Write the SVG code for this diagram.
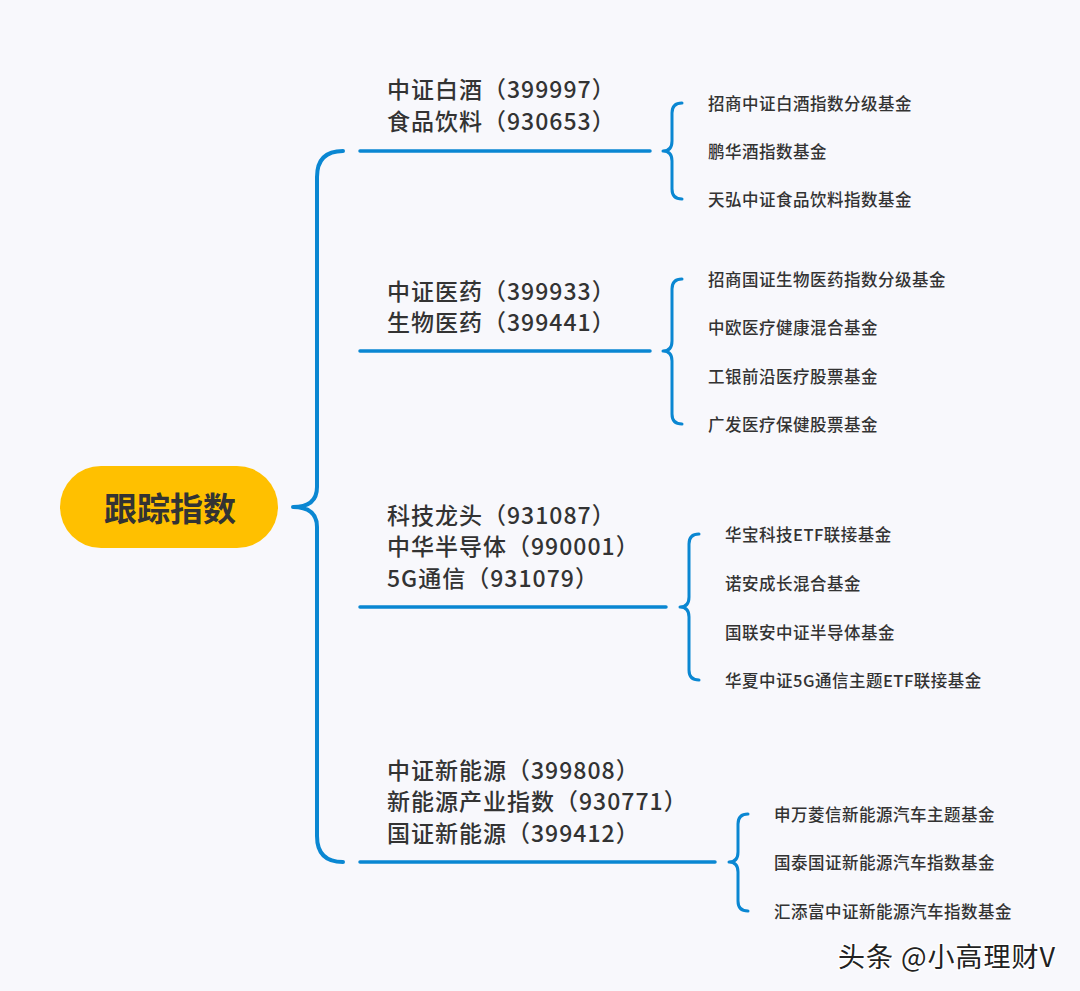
<svg xmlns="http://www.w3.org/2000/svg" width="1080" height="991" viewBox="0 0 1080 991">
<style>
.bg{fill:#F8F8FC}
.ln{fill:none;stroke:#0A87D2;stroke-linecap:round;stroke-linejoin:round}
.main{stroke-width:4}
.sub{stroke-width:3.5}
.br{stroke-width:3}
.t1{font-family:"Noto Sans CJK SC","Noto Sans",sans-serif;font-size:23px;font-weight:500;fill:#333;letter-spacing:1px}
.t2{font-family:"Noto Sans CJK SC","Noto Sans",sans-serif;font-size:16.5px;font-weight:500;fill:#333;letter-spacing:0.5px}
.root{font-family:"Noto Sans CJK SC","Noto Sans",sans-serif;font-size:33px;font-weight:700;fill:#333}
.wm{font-family:"Noto Sans CJK SC","Noto Sans",sans-serif;font-size:27px;font-weight:400;fill:#222;stroke:#fff;stroke-width:2.5;paint-order:stroke;letter-spacing:1px}
</style>
<rect class="bg" x="0" y="0" width="1080" height="991"/>
<g id="connectors">
  <path class="ln main" d="M343,151 Q317,151 317,177 L317,487 Q317,507 293,507 Q317,507 317,527 L317,836 Q317,862 343,862"/>
  <line class="ln sub" x1="360" y1="151" x2="650" y2="151"/>
  <line class="ln sub" x1="360" y1="351" x2="650" y2="351"/>
  <line class="ln sub" x1="360" y1="607" x2="666" y2="607"/>
  <line class="ln sub" x1="360" y1="862" x2="715" y2="862"/>
  <path class="ln br" d="M682,103 Q672,103 672,113 L672,141 Q672,151 663,151 Q672,151 672,161 L672,189 Q672,199 682,199"/>
  <path class="ln br" d="M682,279 Q672,279 672,289 L672,341 Q672,351 663,351 Q672,351 672,361 L672,414 Q672,424 682,424"/>
  <path class="ln br" d="M699,534 Q689,534 689,544 L689,597 Q689,607 680,607 Q689,607 689,617 L689,670 Q689,680 699,680"/>
  <path class="ln br" d="M748,814 Q738,814 738,824 L738,852 Q738,862 729,862 Q738,862 738,872 L738,901 Q738,911 748,911"/>
</g>
<g id="root">
  <rect x="60" y="466" width="218" height="82" rx="41" fill="#FFC000"/>
  <text class="root" x="170" y="507" text-anchor="middle" dominant-baseline="central">跟踪指数</text>
</g>
<g id="branch1">
  <text class="t1" x="387" y="88" dominant-baseline="central">中证白酒（399997）</text>
  <text class="t1" x="387" y="120" dominant-baseline="central">食品饮料（930653）</text>
</g>
<g id="branch2">
  <text class="t1" x="387" y="290" dominant-baseline="central">中证医药（399933）</text>
  <text class="t1" x="387" y="321" dominant-baseline="central">生物医药（399441）</text>
</g>
<g id="branch3">
  <text class="t1" x="387" y="514" dominant-baseline="central">科技龙头（931087）</text>
  <text class="t1" x="387" y="545" dominant-baseline="central">中华半导体（990001）</text>
  <text class="t1" x="387" y="577" dominant-baseline="central">5G通信（931079）</text>
</g>
<g id="branch4">
  <text class="t1" x="387" y="769" dominant-baseline="central">中证新能源（399808）</text>
  <text class="t1" x="387" y="800" dominant-baseline="central">新能源产业指数（930771）</text>
  <text class="t1" x="387" y="832" dominant-baseline="central">国证新能源（399412）</text>
</g>
<g id="funds1">
  <text class="t2" x="708" y="103" dominant-baseline="central">招商中证白酒指数分级基金</text>
  <text class="t2" x="708" y="151" dominant-baseline="central">鹏华酒指数基金</text>
  <text class="t2" x="708" y="199" dominant-baseline="central">天弘中证食品饮料指数基金</text>
</g>
<g id="funds2">
  <text class="t2" x="708" y="279" dominant-baseline="central">招商国证生物医药指数分级基金</text>
  <text class="t2" x="708" y="327" dominant-baseline="central">中欧医疗健康混合基金</text>
  <text class="t2" x="708" y="376" dominant-baseline="central">工银前沿医疗股票基金</text>
  <text class="t2" x="708" y="424" dominant-baseline="central">广发医疗保健股票基金</text>
</g>
<g id="funds3">
  <text class="t2" x="725" y="534" dominant-baseline="central">华宝科技ETF联接基金</text>
  <text class="t2" x="725" y="583" dominant-baseline="central">诺安成长混合基金</text>
  <text class="t2" x="725" y="632" dominant-baseline="central">国联安中证半导体基金</text>
  <text class="t2" x="725" y="680" dominant-baseline="central">华夏中证5G通信主题ETF联接基金</text>
</g>
<g id="funds4">
  <text class="t2" x="774" y="814" dominant-baseline="central">申万菱信新能源汽车主题基金</text>
  <text class="t2" x="774" y="862" dominant-baseline="central">国泰国证新能源汽车指数基金</text>
  <text class="t2" x="774" y="911" dominant-baseline="central">汇添富中证新能源汽车指数基金</text>
</g>
<g id="watermark">
  <text class="wm" x="838" y="955" dominant-baseline="central">头条 @小高理财V</text>
</g>
</svg>
